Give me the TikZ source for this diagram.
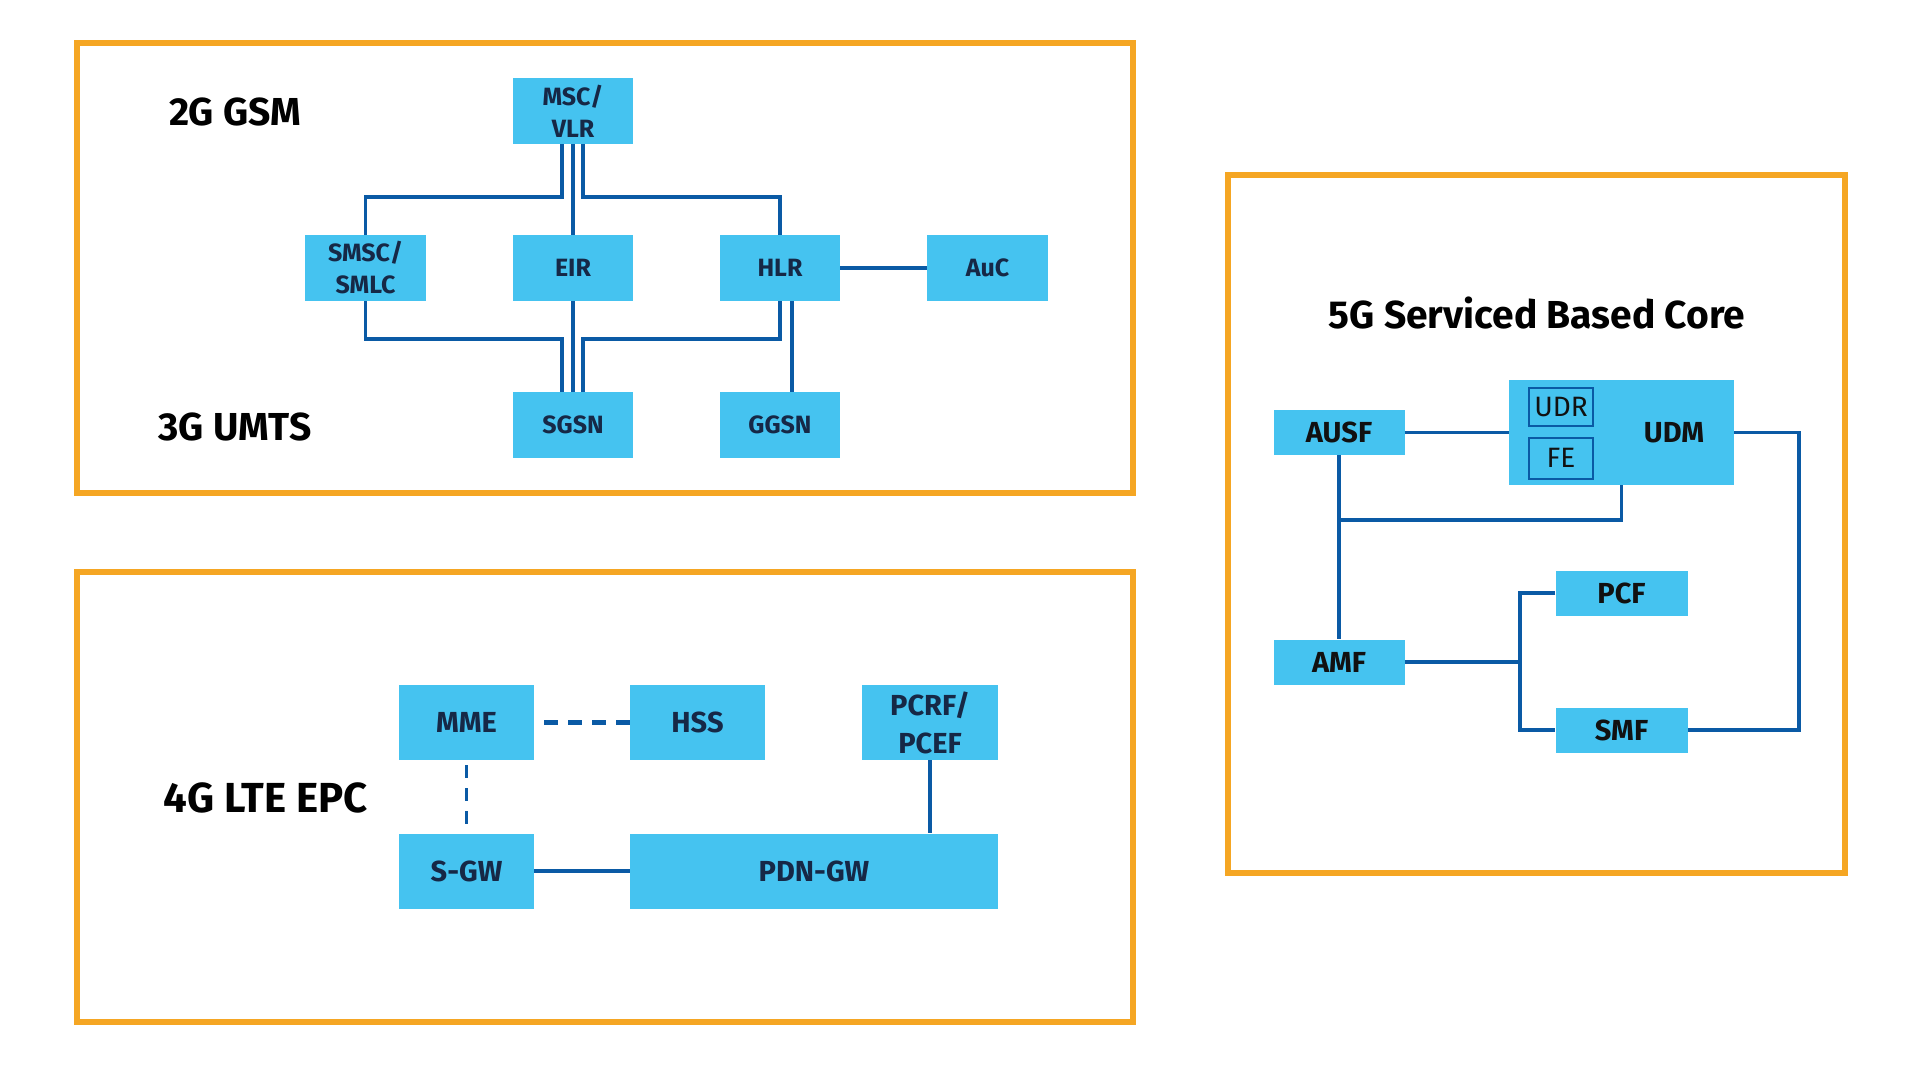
\documentclass[tikz,border=0pt]{standalone}
\usepackage{fontspec}
\setmainfont{Fira Sans}
\usetikzlibrary{calc}
\definecolor{boxfill}{RGB}{69,195,240}
\definecolor{linecol}{RGB}{10,90,165}
\definecolor{frameor}{RGB}{245,166,35}
\definecolor{navy}{RGB}{22,40,70}
\definecolor{blk}{RGB}{17,17,17}
\tikzset{
  frame/.style={draw=frameor, line width=6pt},
  nbox/.style={fill=boxfill, inner sep=0pt, align=center, text=navy, font=\bfseries\fontsize{25}{32}\selectfont},
  lbox/.style={nbox, font=\bfseries\fontsize{29}{38}\selectfont},
  gbox/.style={nbox, text=blk, font=\bfseries\fontsize{29}{34}\selectfont},
  ibox/.style={fill=boxfill, draw=linecol, line width=2pt, inner sep=0pt, text=blk, font=\fontsize{28}{32}\selectfont},
  conn/.style={draw=linecol, line width=3.5pt},
  dconn/.style={conn, line width=4.5pt, dash pattern=on 14pt off 10pt},
  title/.style={text=black, font=\bfseries\fontsize{39}{44}\selectfont},
}
\begin{document}
\begin{tikzpicture}[x=1pt, y=-1pt]
\useasboundingbox[fill=white] (0,0) rectangle (1920,1080);
% frames
\draw[frame] (77,43) rectangle (1133,493);
\draw[frame] (77,572) rectangle (1133,1022);
\draw[frame] (1228,175) rectangle (1845,873);
% 2G / 3G
\node[title] (t2g) at (235,112) {2G GSM};
\node[title] (t3g) at (235,427) {3G UMTS};
\node[nbox, minimum width=120pt, minimum height=66pt] (msc) at (573,111) {MSC/\\VLR};
\node[nbox, minimum width=121pt, minimum height=66pt] (smsc) at (365.5,268) {SMSC/\\SMLC};
\node[nbox, minimum width=120pt, minimum height=66pt] (eir) at (573,268) {EIR};
\node[nbox, minimum width=120pt, minimum height=66pt] (hlr) at (780,268) {HLR};
\node[nbox, minimum width=121pt, minimum height=66pt] (auc) at (987.5,268) {AuC};
\node[nbox, minimum width=120pt, minimum height=66pt] (sgsn) at (573,425) {SGSN};
\node[nbox, minimum width=120pt, minimum height=66pt] (ggsn) at (780,425) {GGSN};
\draw[conn] ([xshift=-11pt]msc.south) |- ([yshift=38pt]smsc.north) -- (smsc.north);
\draw[conn] ([xshift=10pt]msc.south) |- ([yshift=38pt]hlr.north) -- (hlr.north);
\draw[conn] (msc.south) -- (eir.north);
\draw[conn] (smsc.south) |- ([xshift=-11pt,yshift=53pt]sgsn.north) -- ([xshift=-11pt]sgsn.north);
\draw[conn] (eir.south) -- (sgsn.north);
\draw[conn] (hlr.south) |- ([xshift=10pt,yshift=53pt]sgsn.north) -- ([xshift=10pt]sgsn.north);
\draw[conn] ([xshift=12pt]hlr.south) -- ([xshift=12pt]ggsn.north);
\draw[conn, line width=4pt] (hlr.east) -- (auc.west);
% 4G
\node[title, font=\bfseries\fontsize{42}{46}\selectfont, anchor=west] (t4g) at (160,798) {4G LTE EPC};
\node[lbox, minimum width=135pt, minimum height=75pt] (mme) at (466.5,722.5) {MME};
\node[lbox, minimum width=135pt, minimum height=75pt] (hss) at (697.5,722.5) {HSS};
\node[lbox, minimum width=136pt, minimum height=75pt] (pcrf) at (930,722.5) {PCRF/\\PCEF};
\node[lbox, minimum width=135pt, minimum height=75pt] (sgw) at (466.5,871) {S-GW};
\node[lbox, minimum width=368pt, minimum height=75pt] (pdn) at (814,871) {PDN-GW};
\draw[dconn] ([xshift=10pt]mme.east) -- (hss.west);
\draw[dconn, line width=3.5pt, dash pattern=on 13pt off 10pt] ([yshift=-5pt]mme.south) -- ([yshift=4pt]sgw.north);
\draw[conn, line width=4pt] (sgw.east) -- (pdn.west);
\draw[conn] (pcrf.south) -- (pcrf.south |- pdn.north);
% 5G
\node[title] (t5g) at (1537,313) {5G Serviced Based Core};
\node[gbox, minimum width=131pt, minimum height=45pt] (ausf) at (1339,432.5) {AUSF};
\node[gbox, minimum width=225pt, minimum height=105pt] (udm) at (1621.5,432.5) {};
\node[gbox] (udmlabel) at (1674,433) {UDM};
\node[ibox, minimum width=64pt, minimum height=38pt] (udr) at (1561,407) {UDR};
\node[ibox, minimum width=64pt, minimum height=41pt] (fe) at (1561,458) {FE};
\node[gbox, minimum width=132pt, minimum height=45pt] (pcf) at (1621.5,593) {PCF};
\node[gbox, minimum width=131pt, minimum height=45pt] (amf) at (1339,662) {AMF};
\node[gbox, minimum width=132pt, minimum height=45pt] (smf) at (1621.5,730) {SMF};
\coordinate (br) at (1520,662);
\draw[conn] (ausf.east) -- (udm.west);
\draw[conn] (ausf.south) -- (amf.north);
\draw[conn] (udm.south) -- ([yshift=-35pt]udm.south) -| (ausf.south);
\draw[conn] (amf.east) -- (br);
\draw[conn] (pcf.west) -| (br) |- (smf.west);
\draw[conn] (udm.east) -- ([xshift=65pt]udm.east) |- (smf.east);
\end{tikzpicture}
\end{document}
